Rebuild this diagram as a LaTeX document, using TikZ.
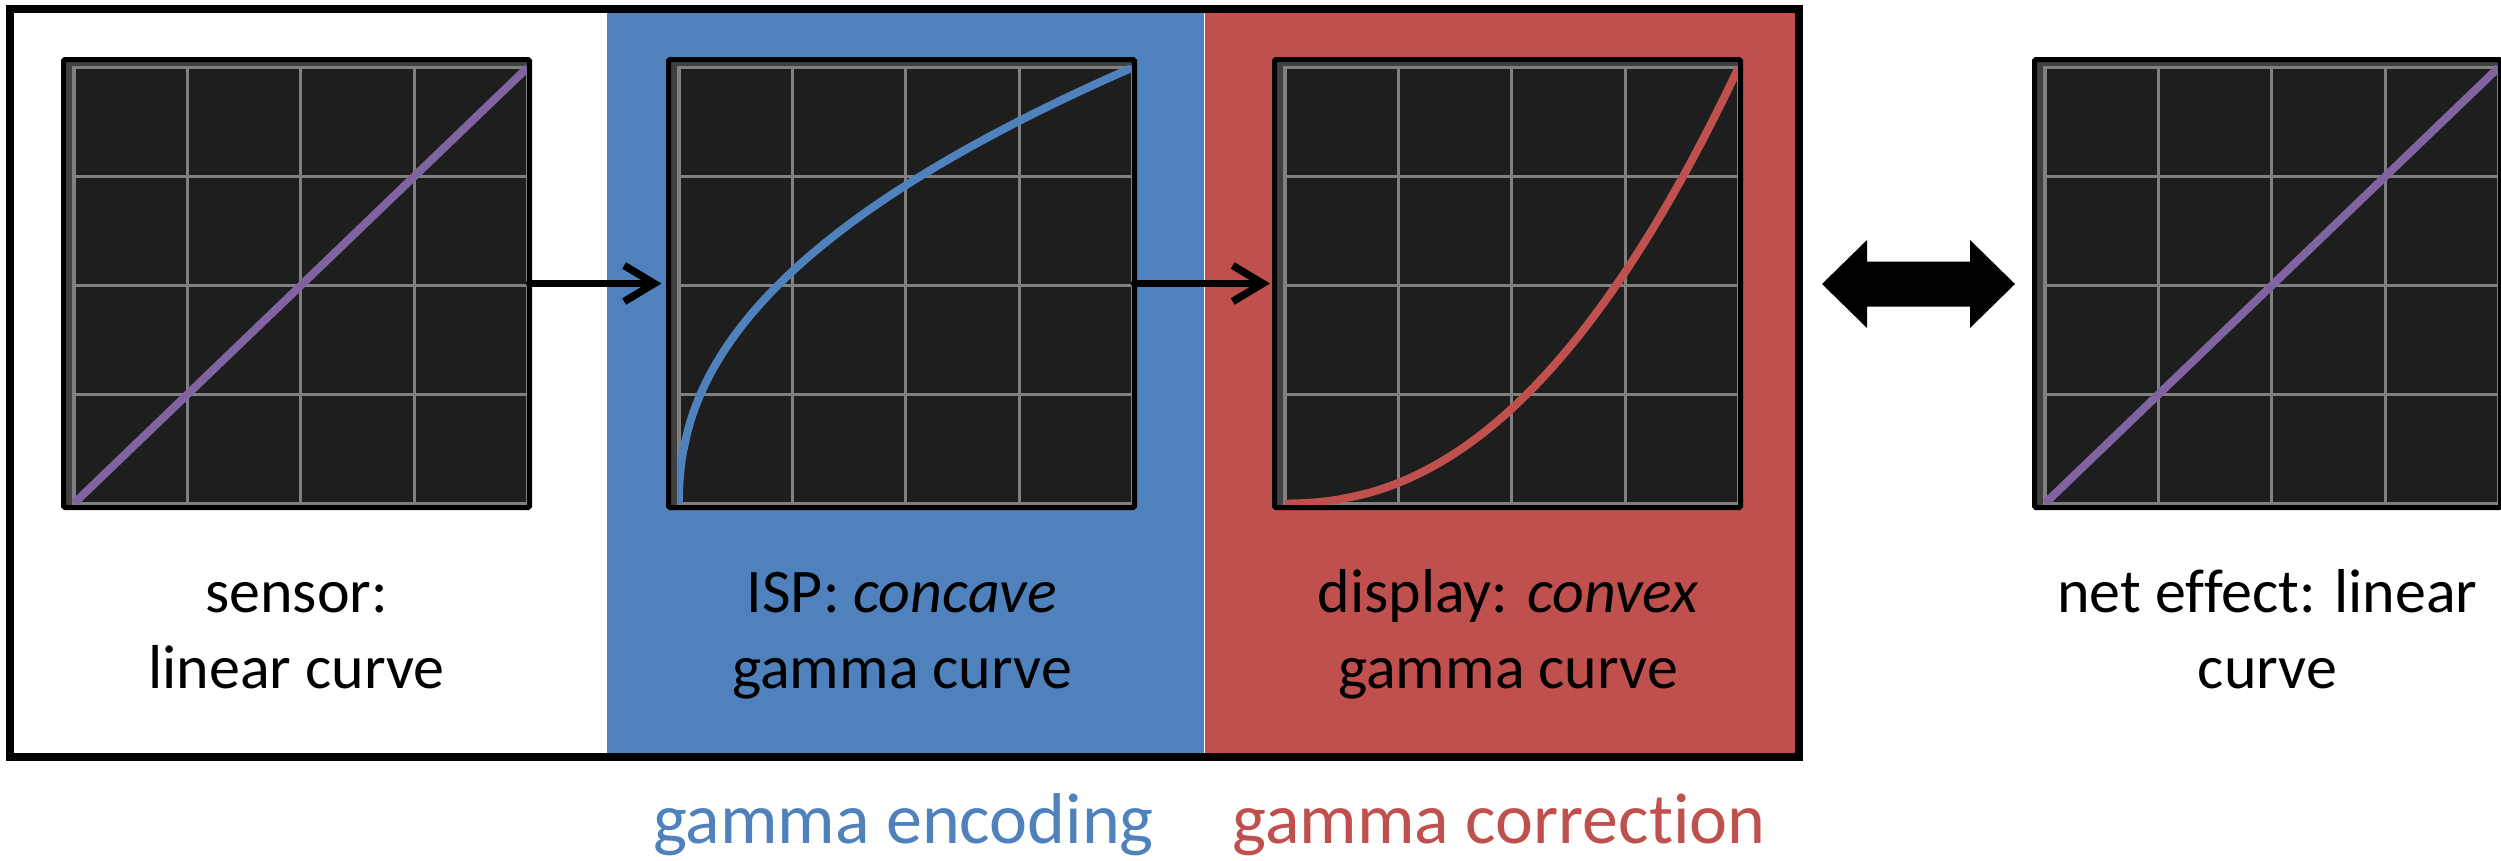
\documentclass[tikz,border=0pt]{standalone}
\usepackage{fontspec}
\setmainfont{Carlito}[Ligatures=NoCommon]
\usetikzlibrary{arrows.meta}
\definecolor{encblue}{HTML}{4F81BD}
\definecolor{corred}{HTML}{C0504D}
\definecolor{linpurple}{HTML}{8064A2}
\definecolor{plotbg}{HTML}{1E1E1E}
\definecolor{plotrim}{HTML}{404040}
\definecolor{gridgray}{HTML}{808080}
\newcommand\gplotframe[2]{%
  \node[plotbox] (#1) at ({#2+235.5},283.5) {};
  \pgfmathsetmacro\gxa{#2+12.9}
  \pgfmathsetmacro\gxb{#2+466.6}
  \fill[plotbg] (\gxa,67.5) rectangle (\gxb,503.5);
  \foreach \k in {0,...,4} {
    \draw[gridline] ({\gxa+\k*113.425},67.5) -- ({\gxa+\k*113.425},503.5);
    \draw[gridline] ({\gxa-1.6},{67.5+\k*109}) -- ({\gxb+1.6},{67.5+\k*109});
  }
}
\newcommand\gplotborder[1]{\draw[plotborder] (#1.south west) rectangle (#1.north east);}
\begin{document}
\begin{tikzpicture}[x=1pt,y=-1pt,
  plotbox/.style={fill=plotrim, minimum width=466pt, minimum height=448pt, inner sep=0pt, outer sep=0pt},
  plotborder/.style={draw=black, line width=5pt, rounded corners=1.5pt},
  gridline/.style={draw=gridgray, line width=3.2pt},
  curve/.style={line width=8pt},
  flowarrow/.style={line width=7.5pt, line cap=round, -{Straight Barb[length=30pt,width=36pt]}},
  lbl/.style={font=\fontsize{62}{76}\selectfont, align=center, anchor=base, inner sep=0pt},
  bottomlbl/.style={font=\fontsize{72}{86}\selectfont, anchor=base, inner sep=0pt}
]
\useasboundingbox (0,0) rectangle (2501,860);
\fill[white] (0,0) rectangle (2501,860);

% coloured panels and frame
\fill[encblue] (607,12) rectangle (1204,753);
\fill[corred] (1204,12) rectangle (1799,753);
\draw[white, line width=1pt] (1204,12) -- (1204,753);
\draw[line width=8pt] (10,8.8) rectangle (1799,757);

% plot 1: linear
\gplotframe{p1}{61}
\begin{scope}
  \clip ({\gxa-1.6},65.9) rectangle ({\gxb+1.6},505.1);
  \draw[curve, linpurple] (\gxa,503.5) -- (\gxb,67.5);
\end{scope}
\gplotborder{p1}

% plot 2: concave
\gplotframe{p2}{666}
\begin{scope}
  \clip ({\gxa-1.6},65.9) rectangle ({\gxb+1.6},505.1);
  \draw[curve, encblue] (\gxa,503.5) -- plot[domain=0.001:1, samples=150, smooth] ({\gxa+453.7*(\x)^2.2}, {503.5-436*\x});
\end{scope}
\gplotborder{p2}

% plot 3: convex
\gplotframe{p3}{1272}
\begin{scope}
  \clip ({\gxa-1.6},65.9) rectangle ({\gxb+1.6},505.1);
  \draw[curve, corred] (\gxa,503.5) -- plot[domain=0.001:1, samples=150, smooth] ({\gxa+453.7*\x}, {503.5-436*(\x)^2.2});
\end{scope}
\gplotborder{p3}

% plot 4: linear (net effect)
\gplotframe{p4}{2032}
\begin{scope}
  \clip ({\gxa-1.6},65.9) rectangle ({\gxb+1.6},505.1);
  \draw[curve, linpurple] (\gxa,503.5) -- (\gxb,67.5);
\end{scope}
\gplotborder{p4}

% connectors
\draw[flowarrow, shorten >=7pt] (p1.east) -- (p2.west);
\draw[flowarrow, shorten >=4.5pt] (p2.east) -- (p3.west);

% double arrow
\fill[black] (1822,284) -- (1867,240) -- (1867,261.5) -- (1970,261.5) -- (1970,240)
  -- (2015,284) -- (1970,328) -- (1970,306.5) -- (1867,306.5) -- (1867,328) -- cycle;

% labels
\node[lbl] (l1) at (296.5,688) {sensor:\\linear curve};
\node[lbl] (l2) at (902,688) {ISP: \textit{concave}\\gamma curve};
\node[lbl] (l3) at (1508,688) {display: \textit{convex}\\gamma curve};
\node[lbl] (l4) at (2267.5,688) {net effect: linear\\curve};

\node[bottomlbl, text=encblue] (enc) at (903.5,843) {gamma encoding};
\node[bottomlbl, text=corred] (cor) at (1499,843) {gamma correction};
\end{tikzpicture}
\end{document}
